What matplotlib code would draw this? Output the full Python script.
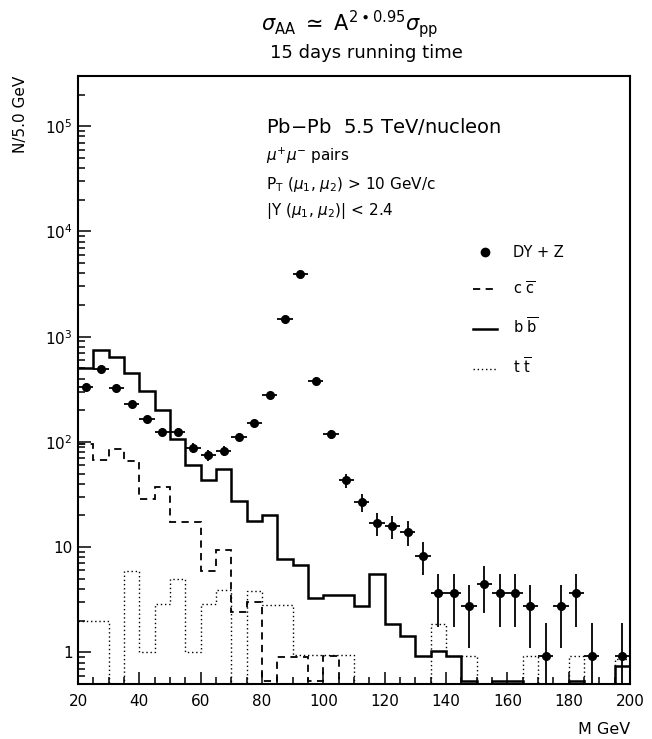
import numpy as np
import matplotlib
matplotlib.use("Agg")
import matplotlib.pyplot as plt  # noqa: E402
from matplotlib.lines import Line2D  # noqa: E402
from matplotlib.ticker import FixedLocator, FuncFormatter, MultipleLocator  # noqa: E402

plt.rcParams["font.family"] = ["DejaVu Sans"]
plt.rcParams["mathtext.fontset"] = "dejavusans"

# 5 GeV mass bins, 20..200 GeV
edges = np.arange(20, 205, 5)

# c cbar (dashed)
cc = [96, 67, 85, 66, 28.6, 37.6, 17.5, 17.5, 5.9, 9.4,
      2.4, 3.0, 0.53, 0.9, 0.9, 0.53, 0.93, 0.3, 0.3, 0.3,
      0.3, 0.3, 0.3, 0.3, 0.3, 0.3, 0.3, 0.3, 0.3, 0.3,
      0.3, 0.3, 0.3, 0.3, 0.3, 0.3]
# b bbar (solid)
bb = [500, 750, 635, 455, 303, 199, 106, 60, 43, 55,
      27.5, 17.7, 20.2, 7.7, 6.8, 3.25, 3.5, 3.5, 2.76, 5.5,
      1.85, 1.44, 0.92, 1.04, 0.92, 0.53, 0.3, 0.53, 0.53, 0.3,
      0.3, 0.3, 0.53, 0.3, 0.3, 0.74]
# t tbar (dotted)
tt = [2.0, 2.0, 0.3, 5.9, 1.0, 2.9, 5.0, 1.0, 2.9, 3.9,
      0.3, 3.8, 2.8, 2.8, 0.95, 0.95, 0.95, 0.95, 0.3, 0.3,
      0.3, 0.3, 0.3, 1.85, 0.92, 0.92, 0.3, 0.3, 0.3, 0.92,
      0.3, 0.3, 0.92, 0.3, 0.3, 0.87]

# DY + Z points
dy_mass = [22.5, 27.5, 32.5, 37.5, 42.5, 47.5, 52.5, 57.5, 62.5, 67.5,
           72.5, 77.5, 82.5, 87.5, 92.5, 97.5, 102.5, 107.5, 112.5, 117.5,
           122.5, 127.5, 132.5, 137.5, 142.5, 147.5, 152.5, 157.5, 162.5, 167.5,
           172.5, 177.5, 182.5, 187.5, 197.5]
dy_n = [333, 490, 326, 228, 164, 124, 124, 88, 75, 82,
        112, 150, 276, 1460, 3950, 379, 118, 43, 26.8, 16.8,
        15.9, 14.0, 8.3, 3.63, 3.63, 2.74, 4.48, 3.63, 3.63, 2.74,
        0.92, 2.74, 3.63, 0.92, 0.92]
dy_err = [18, 22, 18, 15, 13, 11, 11, 9.4, 8.7, 9.1,
          10.6, 12.2, 16.6, 38, 63, 19.5, 10.9, 6.6, 5.2, 4.1,
          4.0, 3.7, 2.9, 1.9, 1.9, 1.65, 2.1, 1.9, 1.9, 1.65,
          0.96, 1.65, 1.9, 0.96, 0.96]
half_bin = 2.5

CC_LS = (0, (4, 3))
TT_LS = (0, (1, 2))

W, H = 652, 739
fig = plt.figure(figsize=(W / 100, H / 100), dpi=100)
ax = fig.add_axes([78 / W, 1 - 684 / H, 552 / W, 608 / H])

ax.stairs(cc, edges, baseline=None, color="black", lw=1.3, ls=CC_LS)
ax.stairs(bb, edges, baseline=None, color="black", lw=1.8, ls="-")
ax.stairs(tt, edges, baseline=None, color="black", lw=1.0, ls=TT_LS)
ax.errorbar(dy_mass, dy_n, yerr=dy_err, xerr=half_bin, fmt="o", color="black",
            ms=5.5, elinewidth=1.3, capsize=0)

ax.set_yscale("log")
ax.set_xlim(20, 200)
ax.set_ylim(0.5, 3e5)

ax.xaxis.set_major_locator(MultipleLocator(20))
ax.xaxis.set_minor_locator(MultipleLocator(5))
ax.yaxis.set_major_locator(FixedLocator([1, 10, 1e2, 1e3, 1e4, 1e5]))
ax.yaxis.set_minor_locator(FixedLocator([m * 10 ** e for e in range(-1, 6) for m in range(2, 10)]))


def ylab(v, pos):
    e = int(round(np.log10(v)))
    if e == 0:
        return "1"
    if e == 1:
        return "10"
    return r"10$^{%d}$" % e


ax.yaxis.set_major_formatter(FuncFormatter(ylab))
ax.tick_params(which="both", direction="in", top=False, right=False, width=1.1,
               labelsize=11)
ax.tick_params(which="major", length=9)
ax.tick_params(axis="y", which="major", pad=4)
ax.tick_params(axis="x", which="major", pad=7)
ax.tick_params(which="minor", length=5)
for s in ax.spines.values():
    s.set_linewidth(1.5)

ax.text(-0.105, 1.0, "N/5.0 GeV", transform=ax.transAxes, rotation=90,
        ha="center", va="top", fontsize=11)
ax.text(1.0, -0.075, "M GeV", transform=ax.transAxes, ha="right", va="center",
        fontsize=11.5)

# run conditions
ax.text(0.341, 0.917, "Pb$-$Pb  5.5 TeV/nucleon", transform=ax.transAxes,
        ha="left", va="center", fontsize=14)
ax.text(0.341, 0.869, r"$\mu^{+}\mu^{-}$ pairs", transform=ax.transAxes,
        ha="left", va="center", fontsize=11)
ax.text(0.341, 0.821, r"P$_{\rm T}$ ($\mu_1$, $\mu_2$) > 10 GeV/c", transform=ax.transAxes,
        ha="left", va="center", fontsize=11)
ax.text(0.341, 0.778, r"|Y ($\mu_1$, $\mu_2$)| < 2.4", transform=ax.transAxes,
        ha="left", va="center", fontsize=11)

handles = [Line2D([], [], color="black", marker="o", ls="none", ms=6),
           Line2D([], [], color="black", lw=1.3, ls=CC_LS),
           Line2D([], [], color="black", lw=1.8),
           Line2D([], [], color="black", lw=1.0, ls=TT_LS)]
labels = ["DY + Z", r"c $\overline{\rm c}$", r"b $\overline{\rm b}$", r"t $\overline{\rm t}$"]
ax.legend(handles, labels, loc="upper left", bbox_to_anchor=(0.692, 0.743),
          frameon=False, fontsize=10.5, handlelength=1.65, handletextpad=1.1,
          labelspacing=1.35)

fig.text(350 / W, 1 - 24 / H, r"$\sigma_{\rm AA}$ $\simeq$ A$^{2\bullet0.95}$$\sigma_{\rm pp}$",
         ha="center", va="center", fontsize=15)
fig.text(366 / W, 1 - 53 / H, "15 days running time", ha="center", va="center",
         fontsize=13)

fig.savefig("out.png", dpi=100)
